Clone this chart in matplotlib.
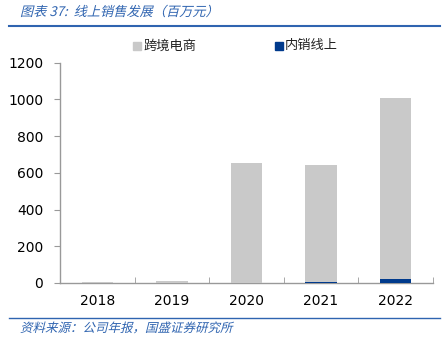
import numpy as np
import matplotlib
matplotlib.use('Agg')
import matplotlib.pyplot as plt
from matplotlib.patches import Rectangle, PathPatch
from matplotlib.lines import Line2D
from matplotlib.textpath import TextPath
from matplotlib.font_manager import FontProperties
from matplotlib.transforms import Affine2D, IdentityTransform

plt.rcParams['font.family'] = ['DejaVu Sans', 'Noto Sans CJK SC']

# 线上销售发展（百万元）
years = ['2018', '2019', '2020', '2021', '2022']
domestic = [0, 0, 2, 3, 22]            # 内销线上
cross_border = [3, 13, 652, 639, 985]  # 跨境电商

grey = '#c9c9c9'
navy = '#003a8c'
blue_txt = '#2f64b0'
cjk = ['Noto Sans CJK SC', 'DejaVu Sans']
W, H, DPI = 446, 345, 100


def slanted(fig, x, y, s, size, color):
    # CJK fonts have no italic face, so shear the glyph outlines instead
    tp = TextPath((0, 0), s, prop=FontProperties(family='Noto Sans CJK SC', size=size))
    tr = Affine2D().skew_deg(14, 0).scale(DPI / 72.0).translate(x, H - y)
    fig.add_artist(PathPatch(tr.transform_path(tp), transform=IdentityTransform(),
                             facecolor=color, lw=0))


fig = plt.figure(figsize=(W / DPI, H / DPI), dpi=DPI)
ax = fig.add_axes([0.1345, 0.180, 0.836, 0.638])

x = np.arange(len(years))
ax.bar(x, domestic, width=0.42, color=navy, zorder=3)
ax.bar(x, cross_border, width=0.42, bottom=domestic, color=grey, zorder=3)

ax.set_xlim(-0.5, 4.5)
ax.set_ylim(0, 1200)
ax.set_yticks(range(0, 1201, 200))
ax.set_xticks(x)
ax.set_xticklabels(years)
ax.set_xticks(np.arange(-0.5, 4.6, 1), minor=True)
ax.tick_params(axis='x', which='major', length=0, pad=8, labelsize=10)
ax.tick_params(axis='x', which='minor', direction='in', length=4, color='#999999')
ax.tick_params(axis='y', direction='out', length=4, color='#999999', pad=8, labelsize=10)
for s in ['top', 'right']:
    ax.spines[s].set_visible(False)
for s in ['left', 'bottom']:
    ax.spines[s].set_color('#999999')
    ax.spines[s].set_linewidth(1)

# legend
fig.patches.append(Rectangle((133 / W, 1 - 50 / H), 8 / W, 8 / H,
                             transform=fig.transFigure, color=grey))
fig.text(143 / W, 1 - 46 / H, '跨境电商', family=cjk, fontsize=9.5, va='center', color='#222222')
fig.patches.append(Rectangle((275 / W, 1 - 50 / H), 8 / W, 8 / H,
                             transform=fig.transFigure, color=navy))
fig.text(285 / W, 1 - 46 / H, '内销线上', family=cjk, fontsize=9.5, va='center', color='#222222')

# header and footer
slanted(fig, 20, 16, '图表 37:  线上销售发展（百万元）', 9.5, blue_txt)
fig.lines.append(Line2D([9 / W, 440 / W], [1 - 26 / H] * 2,
                        transform=fig.transFigure, color=blue_txt, lw=1.5))
fig.lines.append(Line2D([9 / W, 440 / W], [1 - 318 / H] * 2,
                        transform=fig.transFigure, color=blue_txt, lw=1.0))
slanted(fig, 20, 332, '资料来源：公司年报，国盛证券研究所', 9, blue_txt)

fig.savefig('out.png', dpi=DPI)
